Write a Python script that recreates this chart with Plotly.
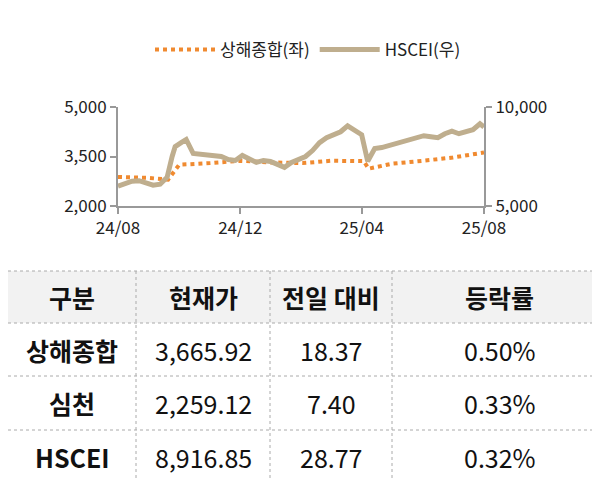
import plotly.graph_objects as go

hs_dates = ["2024-08-01","2024-08-08","2024-08-15","2024-08-22","2024-08-29","2024-09-05","2024-09-12","2024-09-19","2024-09-24","2024-09-27","2024-10-03","2024-10-08","2024-10-15","2024-10-22","2024-10-29","2024-11-05","2024-11-12","2024-11-19","2024-11-26","2024-12-03","2024-12-10","2024-12-17","2024-12-24","2024-12-31","2025-01-07","2025-01-14","2025-01-21","2025-01-28","2025-02-04","2025-02-11","2025-02-18","2025-02-25","2025-03-04","2025-03-11","2025-03-18","2025-03-25","2025-04-01","2025-04-07","2025-04-14","2025-04-21","2025-04-28","2025-05-05","2025-05-12","2025-05-19","2025-05-26","2025-06-02","2025-06-09","2025-06-16","2025-06-23","2025-06-30","2025-07-07","2025-07-14","2025-07-21","2025-07-28","2025-08-01"]
hs_vals = [6000,6150,6250,6280,6150,6050,6100,6450,7500,8000,8200,8360,7650,7600,7550,7550,7500,7350,7300,7550,7400,7200,7300,7250,7100,6950,7200,7350,7500,7800,8200,8450,8600,8750,9050,8850,8600,7260,7900,7950,8050,8200,8300,8400,8500,8550,8500,8450,8650,8780,8650,8750,8850,9150,8990]

sh_dates = ["2024-08-01","2024-09-01","2024-09-20","2024-10-01","2024-11-01","2024-12-01","2025-01-01","2025-02-01","2025-03-01","2025-04-03","2025-04-08","2025-05-01","2025-06-01","2025-07-01","2025-08-01"]
sh_vals = [2880,2850,2800,3250,3300,3370,3320,3300,3370,3360,3130,3280,3370,3470,3620]

tbl_header = ["구분","현재가","전일 대비","등락률"]
tbl_names = ["상해종합","심천","HSCEI"]
tbl_price = ["3,665.92","2,259.12","8,916.85"]
tbl_chg = ["18.37","7.40","28.77"]
tbl_pct = ["0.50%","0.33%","0.32%"]

fig = go.Figure()
fig.add_trace(go.Scatter(x=sh_dates, y=sh_vals, name="상해종합(좌)", mode="lines",
                         line=dict(color="#F08A30", width=4, dash="dot")))
fig.add_trace(go.Scatter(x=hs_dates, y=hs_vals, name="HSCEI(우)", mode="lines", yaxis="y2",
                         line=dict(color="#BFAE8E", width=5)))

W, H = 600, 480
def px(x): return x / W
def py(y): return 1 - y / H

ax = dict(showgrid=False, zeroline=False, showline=True, linecolor="#999", linewidth=2,
          ticks="outside", tickcolor="#999", ticklen=6, tickwidth=2, automargin=False,
          tickfont=dict(family="Noto Sans CJK KR", size=17, color="#222"))
fig.update_layout(
    width=W, height=H, margin=dict(l=0, r=0, t=0, b=0, autoexpand=False),
    paper_bgcolor="white", plot_bgcolor="white",
    font=dict(family="Noto Sans CJK KR"),
    xaxis=dict(**ax, domain=[px(110), px(476)], range=["2024-08-01", "2025-08-01"],
               tickvals=["2024-08-01","2024-12-01","2025-04-01","2025-08-01"],
               ticktext=["24/08","24/12","25/04","25/08"], anchor="y"),
    yaxis=dict(**ax, domain=[py(198), py(99)], range=[2000, 5000],
               tickvals=[2000,3500,5000], tickformat=","),
    yaxis2=dict(**ax, overlaying="y", side="right", range=[5000, 10000],
                tickvals=[5000,10000], tickformat=","),
    showlegend=True,
    legend=dict(orientation="h", x=0.5, xanchor="center", y=py(42), yanchor="middle",
                font=dict(size=17, color="#222"), itemwidth=60),
)

col_x = [0, 128, 262, 384, 600]
row_y = [263, 315, 368, 422, 476]
shapes = [dict(type="rect", xref="paper", yref="paper", x0=0, x1=1, y0=py(315), y1=py(263),
               fillcolor="#F2F2F2", line=dict(width=0), layer="below")]
for y in row_y:
    shapes.append(dict(type="line", xref="paper", yref="paper", x0=0, x1=1, y0=py(y), y1=py(y),
                       line=dict(color="#AAAAAA", width=1, dash="dot")))
for x in col_x[1:-1]:
    shapes.append(dict(type="line", xref="paper", yref="paper", x0=px(x), x1=px(x), y0=py(476), y1=py(263),
                       line=dict(color="#AAAAAA", width=1, dash="dot")))
annotations = []
def cell(text, c, r, bold):
    xc = (col_x[c] + col_x[c+1]) / 2
    yc = (row_y[r] + row_y[r+1]) / 2
    annotations.append(dict(xref="paper", yref="paper", x=px(xc), y=py(yc), showarrow=False,
                            xanchor="center", yanchor="middle",
                            text=f"<b>{text}</b>" if bold else text,
                            font=dict(family="Noto Sans CJK KR", size=25, color="#111")))
for c, t in enumerate(tbl_header):
    cell(t, c, 0, True)
for r in range(3):
    cell(tbl_names[r], 0, r+1, True)
    cell(tbl_price[r], 1, r+1, False)
    cell(tbl_chg[r], 2, r+1, False)
    cell(tbl_pct[r], 3, r+1, False)
fig.update_layout(shapes=shapes, annotations=annotations)
fig.write_html("out.html")
